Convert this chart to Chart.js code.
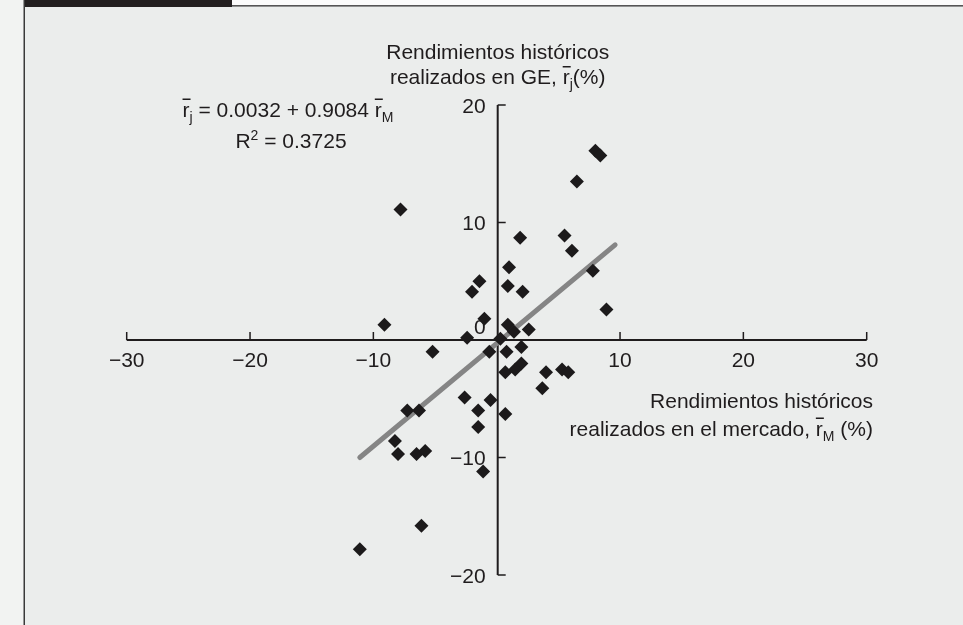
<!DOCTYPE html>
<html>
<head>
<meta charset="utf-8">
<script src="https://cdn.jsdelivr.net/npm/chart.js@4"></script>
<style>
  html, body { margin: 0; padding: 0; background: #f2f3f2; }
  #chart { display: block; }
</style>
</head>
<body>
<canvas id="chart" width="963" height="625"></canvas>
<script>
// DATA
const marketReturns = [-7.8, 8.0, 8.4, 6.5, 1.9, 5.5, 6.1, 1.0, 7.8, -1.4, -2.0, 0.9, 2.1, 8.9, -9.1, -1.0,
  0.9, 1.4, 2.6, -2.4, 0.3, -5.2, -0.6, 0.8, 2.0, 2.0, 1.5, 0.7, 4.0, 5.3, 5.8, 3.7,
  -2.6, -0.5, -1.5, -1.5, 0.7, -7.25, -6.3, -8.25, -8.0, -6.5, -5.8, -1.1, -6.1, -11.1];
const geReturns = [11.1, 16.1, 15.7, 13.5, 8.7, 8.9, 7.6, 6.2, 5.9, 5.0, 4.1, 4.6, 4.1, 2.6, 1.3, 1.8,
  1.3, 0.7, 0.9, 0.2, 0.1, -1.0, -1.0, -1.0, -0.6, -2.0, -2.5, -2.75, -2.75, -2.5, -2.75, -4.1,
  -4.9, -5.1, -6.0, -7.4, -6.3, -6.0, -6.0, -8.6, -9.7, -9.7, -9.45, -11.2, -15.8, -17.8];
const fitX = [-11.1, 9.6];
const fitY = [-10.0, 8.1];
const xTicks = [-30, -20, -10, 10, 20, 30];
const yTicks = [20, 10, 0, -10, -20];
const yTitle = ['Rendimientos históricos', 'realizados en GE, '];
const xTitle = ['Rendimientos históricos', 'realizados en el mercado, '];
const equation = ' = 0.0032 + 0.9084 ';
const rSquared = ' = 0.3725';

const INK = '#1f1c1d';
const FONT = "'Liberation Sans', Arial, sans-serif";

function fmt(v) {
  return v < 0 ? '\u2212' + Math.abs(v) : String(v);
}

// text with overbars, sub and superscripts
function drawRich(ctx, parts, x, y, align) {
  const fontFor = p => (p.sub || p.sup) ? '14px ' + FONT : '21px ' + FONT;
  let total = 0;
  parts.forEach(p => { ctx.font = fontFor(p); p.w = ctx.measureText(p.t).width; total += p.w; });
  let cx = align === 'right' ? x - total : align === 'center' ? x - total / 2 : x;
  const base = y + 7.5;
  ctx.textAlign = 'left';
  ctx.textBaseline = 'alphabetic';
  parts.forEach(p => {
    ctx.font = fontFor(p);
    let dy = p.sub ? 5 : p.sup ? -8 : 0;
    ctx.fillText(p.t, cx, base + dy);
    if (p.bar) {
      ctx.fillRect(cx, base - 18, p.w + 1, 1.5);
    }
    cx += p.w;
  });
}

const framePlugin = {
  id: 'frame',
  beforeDraw(chart) {
    const ctx = chart.ctx;
    ctx.save();
    ctx.fillStyle = '#f2f3f2';
    ctx.fillRect(0, 0, 963, 625);
    ctx.fillStyle = '#fbfbfb';
    ctx.fillRect(24, 0, 939, 6);
    ctx.fillStyle = '#ebedec';
    ctx.fillRect(24, 6, 939, 619);
    ctx.fillStyle = '#231f20';
    ctx.fillRect(24, 0, 208, 7);
    ctx.fillStyle = '#555';
    ctx.fillRect(232, 5, 731, 1.6);
    ctx.fillStyle = '#3a3a3a';
    ctx.fillRect(23.5, 0, 1.5, 625);
    ctx.restore();
  }
};

const axesPlugin = {
  id: 'centerAxes',
  beforeDatasetsDraw(chart) {
    const { ctx, scales: { x, y } } = chart;
    const ox = x.getPixelForValue(0) + 1;
    const oy = y.getPixelForValue(0);
    ctx.save();
    ctx.strokeStyle = INK;
    ctx.fillStyle = INK;
    ctx.lineWidth = 2;
    ctx.beginPath();
    ctx.moveTo(x.getPixelForValue(-30), oy);
    ctx.lineTo(x.getPixelForValue(30), oy);
    ctx.moveTo(ox, y.getPixelForValue(20));
    ctx.lineTo(ox, y.getPixelForValue(-20));
    ctx.stroke();

    ctx.lineWidth = 1.5;
    ctx.beginPath();
    xTicks.forEach(v => {
      const px = x.getPixelForValue(v);
      ctx.moveTo(px, oy);
      ctx.lineTo(px, oy - 8);
    });
    yTicks.filter(v => v !== 0).forEach(v => {
      const py = y.getPixelForValue(v);
      ctx.moveTo(ox, py);
      ctx.lineTo(ox + 8, py);
    });
    ctx.stroke();

    ctx.font = '21px ' + FONT;
    ctx.textAlign = 'center';
    ctx.textBaseline = 'middle';
    xTicks.forEach(v => ctx.fillText(fmt(v), x.getPixelForValue(v), oy + 21));
    ctx.textAlign = 'right';
    yTicks.forEach(v => {
      const py = v === 0 ? oy - 12 : y.getPixelForValue(v) + 2;
      ctx.fillText(fmt(v), ox - 12, py);
    });
    ctx.restore();
  },
  afterDraw(chart) {
    const { ctx, scales: { x } } = chart;
    const ox = x.getPixelForValue(0) + 1;
    ctx.save();
    ctx.fillStyle = INK;
    ctx.font = '21px ' + FONT;
    ctx.textAlign = 'center';
    ctx.textBaseline = 'middle';
    ctx.fillText(yTitle[0], ox, 53);
    drawRich(ctx, [{ t: yTitle[1] }, { t: 'r', bar: true }, { t: 'j', sub: true }, { t: '(%)' }], ox, 76.5, 'center');

    ctx.textAlign = 'right';
    ctx.textBaseline = 'middle';
    ctx.fillText(xTitle[0], 873, 402);
    drawRich(ctx, [{ t: xTitle[1] }, { t: 'r', bar: true }, { t: 'M', sub: true }, { t: ' (%)' }], 873, 428, 'right');

    drawRich(ctx, [{ t: 'r', bar: true }, { t: 'j', sub: true }, { t: equation }, { t: 'r', bar: true }, { t: 'M', sub: true }], 288, 109, 'center');
    drawRich(ctx, [{ t: 'R' }, { t: '2', sup: true }, { t: rSquared }], 291, 140, 'center');
    ctx.restore();
  }
};

new Chart(document.getElementById('chart'), {
  type: 'scatter',
  data: {
    datasets: [
      {
        label: 'GE',
        data: marketReturns.map((v, i) => ({ x: v, y: geReturns[i] })),
        pointStyle: 'rectRot',
        pointRadius: 7,
        pointBackgroundColor: '#1c1a1b',
        pointBorderWidth: 0,
        order: 0
      },
      {
        type: 'line',
        label: 'fit',
        data: fitX.map((v, i) => ({ x: v, y: fitY[i] })),
        borderColor: '#858585',
        borderWidth: 5,
        borderCapStyle: 'round',
        pointRadius: 0,
        fill: false,
        order: 1
      }
    ]
  },
  options: {
    responsive: false,
    animation: false,
    layout: { padding: { left: 126.7, right: 96.3, top: 105, bottom: 50 } },
    scales: {
      x: { type: 'linear', min: -30, max: 30, display: false },
      y: { type: 'linear', min: -20, max: 20, display: false }
    },
    plugins: { legend: { display: false }, tooltip: { enabled: false } }
  },
  plugins: [framePlugin, axesPlugin]
});
</script>
</body>
</html>
